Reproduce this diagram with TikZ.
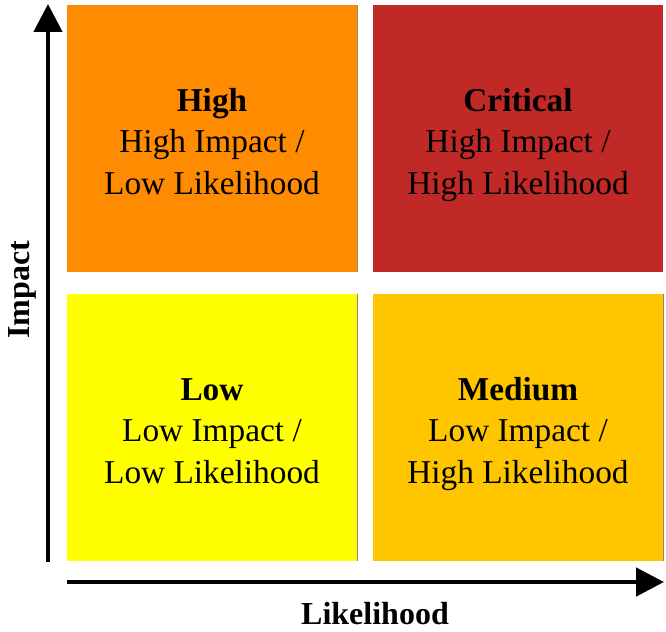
\documentclass[tikz,border=0pt]{standalone}
\usepackage{fontspec}
\setmainfont{Liberation Serif}
\usetikzlibrary{arrows.meta, positioning}
\definecolor{highc}{RGB}{255,140,0}
\definecolor{critc}{RGB}{192,41,37}
\definecolor{lowc}{RGB}{255,255,0}
\definecolor{medc}{RGB}{255,198,0}
\definecolor{edge}{RGB}{150,130,100}

\begin{document}
\begin{tikzpicture}[x=0.75pt, y=-0.75pt,
    quad/.style={minimum width=217.5pt, minimum height=200.25pt,
                 inner sep=0pt, align=center},
    quadtext/.style={align=center, inner sep=0pt,
                     font=\fontsize{25}{31}\selectfont},
    axis/.style={line width=3.6pt, -{Triangle[length=21pt, width=21pt]}},
    axlabel/.style={font=\fontsize{24}{28}\selectfont\bfseries}]
  \useasboundingbox (0,0) rectangle (666,631);
  % the four quadrants
  \node[quad, fill=highc] (high) at (212,138.5) {};
  \node[quad, fill=critc] (critical) at (518,138.5) {};
  \node[quad, fill=lowc] (low) at (212,427.5) {};
  \node[quad, fill=medc] (medium) at (518,427.5) {};
  % thin shadow edges
  \draw[edge, line width=1pt] (high.north east) -- (high.south east);
  \draw[edge, line width=1pt] (low.north east) -- (low.south east);
  \draw[edge, line width=1pt] (medium.north east) -- (medium.south east);
  % quadrant texts
  \node[quadtext, yshift=-4.5pt] (hightxt) at (high)
    {\strut\textbf{High}\\High Impact /\\Low Likelihood\strut};
  \node[quadtext, yshift=-4.5pt] (crittxt) at (critical)
    {\strut\textbf{Critical}\\High Impact /\\High Likelihood\strut};
  \node[quadtext, yshift=-4.5pt] (lowtxt) at (low)
    {\strut\textbf{Low}\\Low Impact /\\Low Likelihood\strut};
  \node[quadtext, yshift=-4.5pt] (medtxt) at (medium)
    {\strut\textbf{Medium}\\Low Impact /\\High Likelihood\strut};
  % axes
  \coordinate (ybot) at (48,562);
  \coordinate (ytop) at (48,4);
  \coordinate (xleft) at (67,582);
  \coordinate (xright) at (664,582);
  \draw[axis] (ybot) -- (ytop);
  \draw[axis] (xleft) -- (xright);
  \node[axlabel, rotate=90] (impact) at (22,290) {Impact};
  \node[axlabel] (likelihood) at (375,614) {Likelihood};
\end{tikzpicture}
\end{document}
